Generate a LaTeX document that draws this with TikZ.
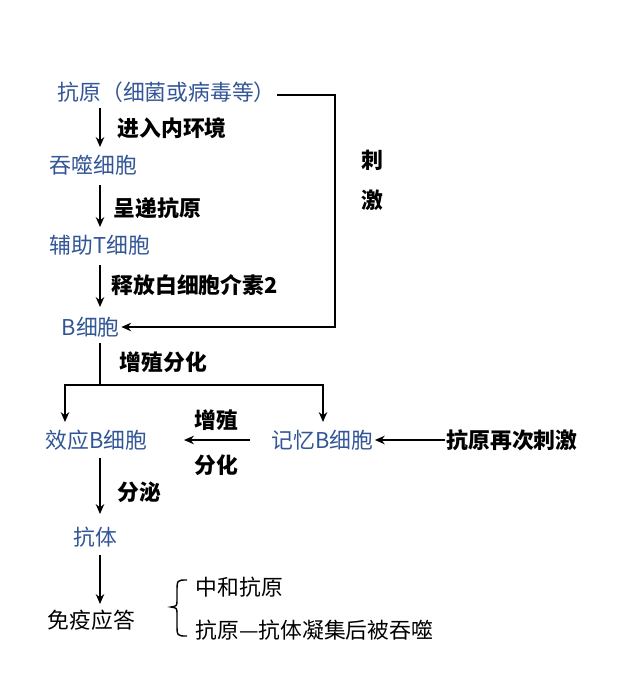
\documentclass[tikz,border=0pt]{standalone}
\usepackage{fontspec}
\setmainfont{Noto Sans CJK SC}
\usetikzlibrary{positioning,arrows.meta,decorations.pathreplacing}
\definecolor{cellblue}{RGB}{50,85,150}
\begin{document}
\begin{tikzpicture}[x=0.025cm,y=-0.025cm,
    cell/.style={text=cellblue, font=\fontsize{15.5}{17}\selectfont, inner sep=1pt, anchor=west},
    note/.style={text=black, font=\fontsize{15.5}{17}\selectfont\bfseries, inner sep=1pt, anchor=west},
    arrow/.style={-{Stealth[length=7pt,width=6pt]}, line width=1.6pt}
  ]
    \useasboundingbox (0,0) rectangle (640,689);
    % cells
    \node[cell] (antigen) at (56,92) {抗原（细菌或病毒等）};
    \node[cell] (phago) at (48,165) {吞噬细胞};
    \node[cell] (helper) at (48,245) {辅助T细胞};
    \node[cell] (bcell) at (60,327) {B细胞};
    \node[cell] (plasma) at (44,440) {效应B细胞};
    \node[cell] (memory) at (270,440) {记忆B细胞};
    \node[cell] (antibody) at (72,537) {抗体};
    \node[note, font=\fontsize{15.5}{17}\selectfont] (response) at (46,620) {免疫应答};
    \node[note] (again) at (445,440) {抗原再次刺激};
    % labels
    \node[note] (enter) at (116,128) {进入内环境};
    \node[note] (present) at (112,208) {呈递抗原};
    \node[note] (release) at (110,285) {释放白细胞介素2};
    \node[note] (prolif) at (118,362) {增殖分化};
    \node[note] (secrete) at (116,492) {分泌};
    \node[note] (grow) at (193,420) {增殖};
    \node[note] (diff) at (193,465) {分化};
    \node[note] (ci) at (360,160) {刺};
    \node[note] (ji) at (360,200) {激};
    \node[note, font=\fontsize{15.5}{17}\selectfont] (neutral) at (194,587) {中和抗原};
    \node[note, font=\fontsize{15.5}{17}\selectfont] (engulf) at (194,630) {抗原—抗体凝集后被吞噬};
    % arrows
    \draw[arrow] (100,108) -- (100,147);
    \draw[arrow] (100,185) -- (100,227);
    \draw[arrow] (100,265) -- (100,307);
    \draw[arrow] (antigen.east |- 0,95) -- (335,95) -- (335,327) -- (bcell.east);
    \draw[line width=1.6pt] (100,343) -- (100,385);
    \draw[line width=1.6pt] (65,385) -- (323,385);
    \draw[arrow] (65,384) -- (65,422);
    \draw[arrow] (323,384) -- (323,422);
    \coordinate (mid) at (250,440);
    \draw[arrow] (mid) -- (184,440);
    \draw[arrow] (again.west) -- (memory.east);
    \draw[arrow] (100,458) -- (100,514);
    \draw[arrow] (100,555) -- (100,604);
    \draw[line width=1pt] (187,580) .. controls (177,580) .. (177,592) -- (177,600) .. controls (177,606) .. (171,607) .. controls (177,608) .. (177,614) -- (177,624) .. controls (177,636) .. (187,636);
\end{tikzpicture}
\end{document}
